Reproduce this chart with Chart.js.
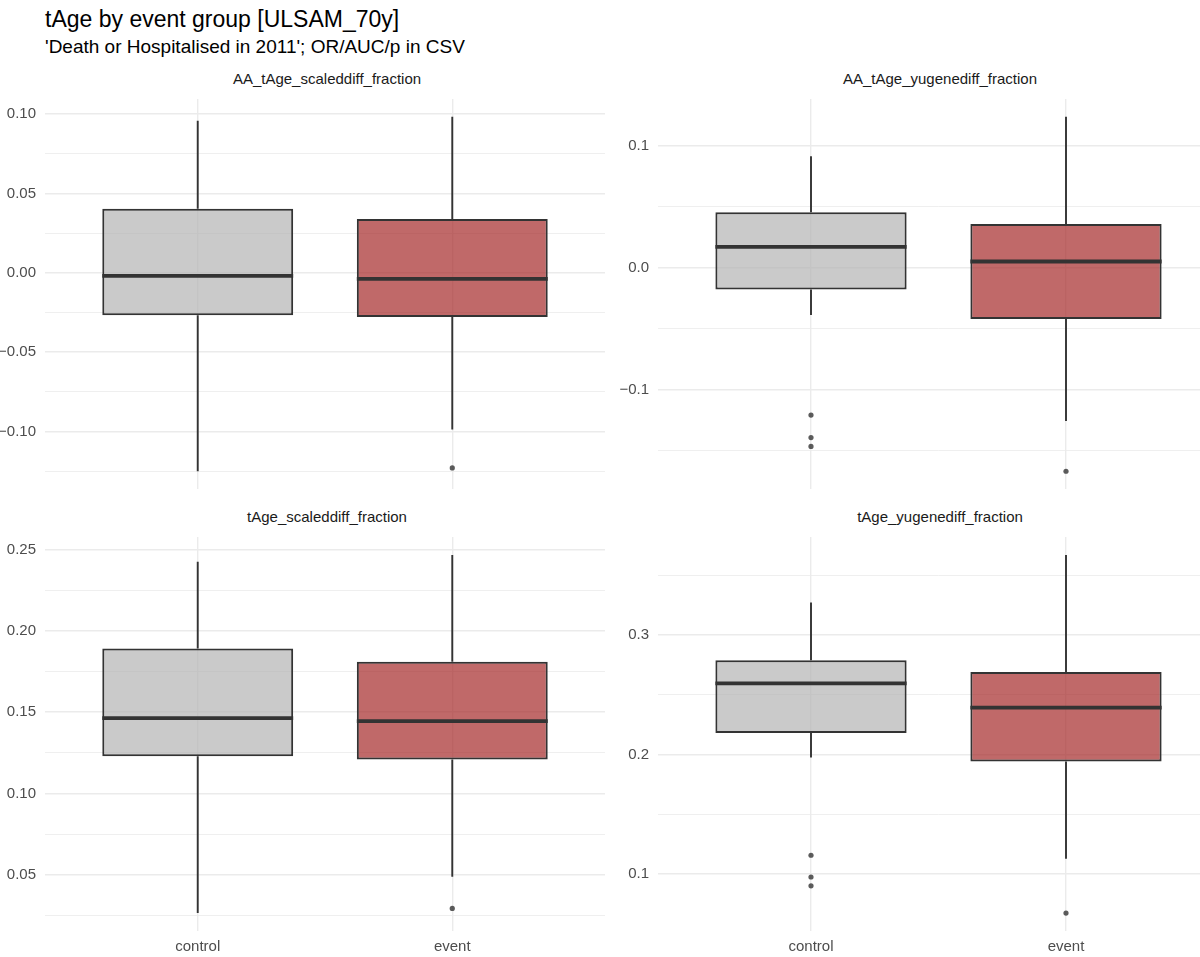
<!DOCTYPE html>
<html>
<head>
<meta charset="utf-8">
<script src="https://cdn.jsdelivr.net/npm/chart.js@4.4.1/dist/chart.umd.min.js"></script>
<style>
  html, body { margin:0; padding:0; background:#fff; overflow:hidden; width:1200px; height:957px; }
  body { position:relative; font-family:"Liberation Sans", Arial, Helvetica, sans-serif; }
  .title { position:absolute; left:45px; top:8px; font-size:23px; line-height:1; color:#000; white-space:nowrap; }
  .subtitle { position:absolute; left:45px; top:37px; font-size:19px; line-height:1; color:#000; white-space:nowrap; }
  .strip { position:absolute; font-size:15px; line-height:1; color:#1A1A1A; white-space:nowrap; transform:translateX(-50%); }
  .box { position:absolute; }
</style>
</head>
<body>
<div class="title">tAge by event group [ULSAM_70y]</div>
<div class="subtitle">'Death or Hospitalised in 2011'; OR/AUC/p in CSV</div>

<div class="strip" style="left:327px; top:71px;">AA_tAge_scaleddiff_fraction</div>
<div class="strip" style="left:940px; top:71px;">AA_tAge_yugenediff_fraction</div>
<div class="strip" style="left:327px; top:509px;">tAge_scaleddiff_fraction</div>
<div class="strip" style="left:940px; top:509px;">tAge_yugenediff_fraction</div>

<div class="box" style="left:0px; top:95px; width:609px; height:398px;"><canvas id="c0"></canvas></div>
<div class="box" style="left:600px; top:95px; width:623px; height:398px;"><canvas id="c1"></canvas></div>
<div class="box" style="left:0px; top:533px; width:609px; height:422px;"><canvas id="c2"></canvas></div>
<div class="box" style="left:600px; top:533px; width:623px; height:422px;"><canvas id="c3"></canvas></div>

<script>
// ---------------- DATA ----------------
const categories = ['control', 'event'];
const panelTitles = ['AA_tAge_scaleddiff_fraction', 'AA_tAge_yugenediff_fraction',
                     'tAge_scaleddiff_fraction', 'tAge_yugenediff_fraction'];

// per panel: [control, event]
const whiskerLow  = [[-0.1251, -0.0987], [-0.0389, -0.1257], [0.0264, 0.0488], [0.1975, 0.1127]];
const q1          = [[-0.0268, -0.0278], [-0.0180, -0.0421], [0.1228, 0.1208], [0.2179, 0.1940]];
const median      = [[-0.0019, -0.0038], [ 0.0170,  0.0050], [0.1463, 0.1445], [0.2595, 0.2392]];
const q3          = [[ 0.0404,  0.0340], [ 0.0453,  0.0357], [0.1892, 0.1810], [0.2788, 0.2689]];
const whiskerHigh = [[ 0.0959,  0.0984], [ 0.0913,  0.1237], [0.2425, 0.2467], [0.3270, 0.3669]];

const outliersControl = [[], [-0.1209, -0.1394, -0.1466], [], [0.1157, 0.0975, 0.0901]];
const outliersEvent   = [[-0.1230], [-0.1670], [0.0293], [0.0673]];

// tick values and labels
const majorTicks = [[-0.10, -0.05, 0, 0.05, 0.10], [-0.1, 0, 0.1], [0.05, 0.10, 0.15, 0.20, 0.25], [0.1, 0.2, 0.3]];
const tickLabels = [['\u22120.10', '\u22120.05', '0.00', '0.05', '0.10'], ['\u22120.1', '0.0', '0.1'],
                    ['0.05', '0.10', '0.15', '0.20', '0.25'], ['0.1', '0.2', '0.3']];
const minorTicks = [[-0.125, -0.075, -0.025, 0.025, 0.075], [-0.15, -0.05, 0.05, 0.15],
                    [0.025, 0.075, 0.125, 0.175, 0.225], [0.05, 0.15, 0.25, 0.35]];

// ---------------- STYLE ----------------
const FONT = '"Liberation Sans", Arial, Helvetica, sans-serif';
const boxFill = ['rgba(179,179,179,0.7)', 'rgba(165,42,42,0.7)'];
const inkColor = '#333333';
const gridColor = '#EBEBEB';

Chart.defaults.font.family = FONT;
Chart.defaults.animation = false;

const boxExtras = {
  id: 'boxExtras',
  beforeDatasetsDraw(chart) {
    const p = chart.options.plugins.boxExtras.panel;
    const { ctx, scales: { x, y } } = chart;
    ctx.save();
    ctx.strokeStyle = inkColor;
    ctx.lineWidth = 1.9;
    categories.forEach((c, i) => {
      const px = x.getPixelForValue(i + 1);
      ctx.beginPath();
      ctx.moveTo(px, y.getPixelForValue(whiskerHigh[p][i]));
      ctx.lineTo(px, y.getPixelForValue(q3[p][i]));
      ctx.moveTo(px, y.getPixelForValue(q1[p][i]));
      ctx.lineTo(px, y.getPixelForValue(whiskerLow[p][i]));
      ctx.stroke();
    });
    ctx.restore();
  },
  afterDatasetsDraw(chart) {
    const p = chart.options.plugins.boxExtras.panel;
    const { ctx, scales: { y } } = chart;
    const meta = chart.getDatasetMeta(0);
    ctx.save();
    ctx.strokeStyle = inkColor;
    ctx.lineWidth = 3.8;
    meta.data.forEach((bar, i) => {
      const py = y.getPixelForValue(median[p][i]);
      ctx.beginPath();
      ctx.moveTo(bar.x - bar.width / 2, py);
      ctx.lineTo(bar.x + bar.width / 2, py);
      ctx.stroke();
    });
    ctx.restore();
  }
};

function near(a, b) { return Math.abs(a - b) < 1e-9; }

function makeChart(p, canvasId, axisWidth, showX) {
  const all = [].concat(whiskerLow[p], whiskerHigh[p], outliersControl[p], outliersEvent[p]);
  const lo = Math.min(...all), hi = Math.max(...all);
  const pad = (hi - lo) * 0.05;
  const yMin = lo - pad, yMax = hi + pad;

  const outlierPts = outliersControl[p].map(v => ({ x: 1, y: v }))
    .concat(outliersEvent[p].map(v => ({ x: 2, y: v })));

  return new Chart(document.getElementById(canvasId), {
    type: 'bar',
    data: {
      datasets: [
        {
          type: 'bar',
          data: categories.map((c, i) => ({ x: i + 1, y: [q1[p][i], q3[p][i]] })),
          backgroundColor: boxFill,
          borderColor: inkColor,
          borderWidth: 2,
          borderSkipped: false,
          categoryPercentage: 1,
          barPercentage: 0.75,
          order: 1
        },
        {
          type: 'scatter',
          data: outlierPts,
          pointRadius: 2.6,
          pointBackgroundColor: 'rgba(51,51,51,0.8)',
          pointBorderWidth: 0,
          order: 0
        }
      ]
    },
    options: {
      responsive: true,
      maintainAspectRatio: false,
      animation: false,
      events: [],
      layout: { padding: 0 },
      plugins: {
        legend: { display: false },
        tooltip: { enabled: false },
        title: { display: false },
        boxExtras: { panel: p }
      },
      scales: {
        x: {
          type: 'linear',
          min: 0.4,
          max: 2.6,
          offset: false,
          border: { display: false },
          grid: { offset: false, color: gridColor, lineWidth: 1.4, drawTicks: false },
          afterBuildTicks: s => { s.ticks = categories.map((c, i) => ({ value: i + 1 })); },
          ticks: {
            display: showX,
            autoSkip: false,
            padding: 7,
            color: '#4D4D4D',
            font: { size: 15, family: FONT },
            callback: v => categories[Math.round(v) - 1]
          },
          afterFit: s => { s.height = showX ? 24 : 0; s.paddingLeft = 0; s.paddingRight = 0; }
        },
        y: {
          type: 'linear',
          min: yMin,
          max: yMax,
          border: { display: false },
          grid: {
            color: gridColor,
            drawTicks: false,
            lineWidth: ctx => (ctx.tick && majorTicks[p].some(m => near(m, ctx.tick.value))) ? 1.4 : 0.8
          },
          afterBuildTicks: s => {
            const vals = majorTicks[p].concat(minorTicks[p])
              .filter(v => v >= yMin && v <= yMax)
              .sort((a, b) => a - b);
            s.ticks = vals.map(v => ({ value: v }));
          },
          ticks: {
            autoSkip: false,
            padding: 9,
            color: '#4D4D4D',
            font: { size: 15, family: FONT },
            callback: v => {
              const k = majorTicks[p].findIndex(m => near(m, v));
              return k >= 0 ? tickLabels[p][k] : '';
            }
          },
          afterFit: s => { s.width = axisWidth; s.paddingTop = 0; s.paddingBottom = 0; }
        }
      }
    },
    plugins: [boxExtras]
  });
}

makeChart(0, 'c0', 45, false);
makeChart(1, 'c1', 58, false);
makeChart(2, 'c2', 45, true);
makeChart(3, 'c3', 58, true);
</script>
</body>
</html>
